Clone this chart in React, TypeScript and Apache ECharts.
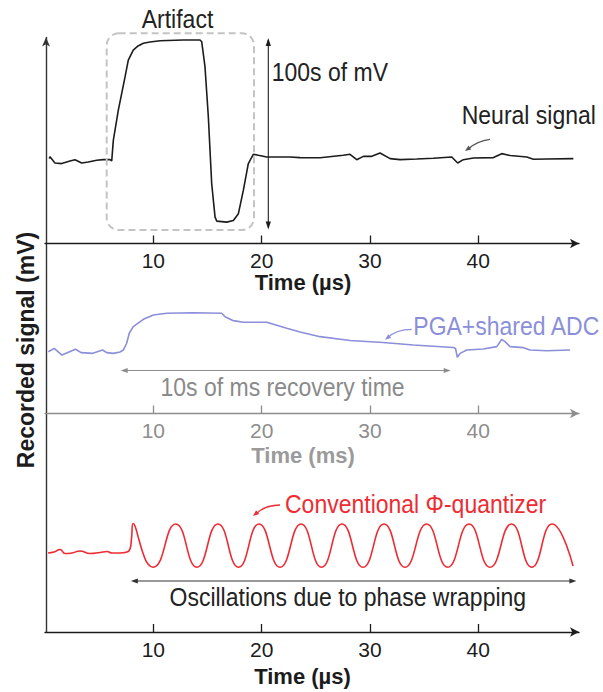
import React, { useEffect, useRef } from "react";
import * as echarts from "echarts";

// ---------- data ----------
const X_MAX = 49.3;
const X_TICKS = [10, 20, 30, 40];

// Panel 1: neural recording with a stimulation artifact (time in µs, arbitrary mV units)
const artifactTrace: [number, number][] = [
  [0.4, 40.9], [0.46, 41.8], [0.92, 38.8], [1.54, 38.5], [2.31, 39.8], [2.77, 40.4],
  [3.39, 38.8], [4.0, 39.3], [4.77, 40.1], [5.38, 40.4], [6.0, 40.4], [6.16, 39.8],
  [6.31, 49.8], [6.77, 64.3], [7.39, 80.3], [7.69, 88.4], [8.15, 93.2], [8.59, 95.2],
  [9.08, 96.5], [9.7, 97.1], [10.62, 97.7], [12.77, 98.1], [14.31, 98.1], [14.47, 97.2],
  [14.77, 85.2], [15.08, 61], [15.39, 28.8], [15.7, 12.7], [15.86, 10.8], [16.78, 10.3],
  [17.39, 11.1], [17.85, 14.3], [18.31, 25.6], [18.77, 38.5], [19.23, 43], [19.7, 42.5],
  [20.47, 41.7], [21.39, 41.7], [22.62, 41.7], [23.55, 41.4], [25.4, 41.3], [27.54, 42.5],
  [28.16, 43], [28.78, 40.4], [29.39, 42], [30.17, 42], [30.93, 43.6], [31.86, 40.9],
  [32.78, 40.4], [34.32, 40.7], [35.85, 41.1], [37.55, 41.7], [38.1, 38.8], [38.62, 40.4],
  [39.55, 41.2], [41.4, 41.4], [42.17, 43.3], [42.94, 42.4], [44.48, 41.7], [45.09, 40.6],
  [46.33, 40.7], [48.78, 40.9],
];

// Panel 2: PGA + shared ADC (time in ms)
const pgaTrace: [number, number][] = [
  [0.31, 54.4], [0.85, 57.4], [1.56, 51.5], [2.81, 56.6], [3.34, 53.6], [4.41, 53.0],
  [5.31, 55.9], [5.7, 53.6], [6.31, 53.0], [6.93, 54.2], [7.23, 55.9], [7.54, 61.9],
  [7.78, 70.7], [8.15, 76.5], [9.08, 83.0], [10.0, 86.8], [11.24, 88.3], [13.7, 88.8],
  [16.32, 88.3], [16.62, 85.3], [17.39, 81.8], [18.31, 80.4], [20.47, 80.4], [22.32, 75.1],
  [23.55, 71.8], [25.39, 67.7], [28.16, 64.3], [31.21, 62.6], [34.0, 60.4], [37.7, 58.1],
  [37.9, 57.3], [38.07, 49.5], [38.32, 53.0], [38.94, 55.9], [40.47, 56.8], [41.71, 58.9],
  [42.17, 65.4], [42.47, 63.3], [42.94, 58.9], [44.17, 58.0], [44.78, 55.9], [46.33, 55.3],
  [48.48, 55.9],
];

// Panel 3: conventional Φ-quantizer (time in µs)
const phiTrace: [number, number][] = [
  [0.28, 52], [0.83, 52.6], [1.39, 54.3], [1.85, 51.6], [2.49, 52], [3.23, 53.3],
  [4.16, 51.6], [5.08, 52.3], [5.72, 53], [6.19, 52], [6.93, 52], [7.57, 52.6],
  [7.85, 54.6], [7.99, 61.8], [8.13, 71.4], [8.31, 69.7], [8.68, 60.5], [9.14, 50],
  [9.51, 44.7], [9.97, 42.6],
  [12.07, 71.1], [14.02, 42.6], [15.97, 71.1], [17.87, 42.6], [19.76, 71.1], [21.7, 42.6],
  [23.64, 71.1], [25.53, 42.6], [27.42, 71.1], [29.36, 42.6], [31.3, 71.1], [33.24, 42.6],
  [35.23, 71.1], [37.18, 42.6], [39.15, 71.1], [41.09, 42.6], [43.07, 71.1], [44.94, 42.6],
  [46.81, 71.1], [48.75, 43.4],
];

// ---------- styling ----------
const TEXT_FONT = "'Liberation Sans', Arial, Helvetica, sans-serif";
const NUM_FONT = "'Liberation Sans Narrow', 'Arial Narrow', 'Liberation Sans', Arial, sans-serif";
const BLACK = "#1c1c1c";
const GRAY = "#8d8d8d";
const LAVENDER = "#8b8fd9";
const RED = "#ee2b32";

function head(tx: number, ty: number, fx: number, fy: number, len = 8, hw = 2.8, fill = BLACK) {
  const dx = tx - fx;
  const dy = ty - fy;
  const d = Math.hypot(dx, dy) || 1;
  const ux = dx / d;
  const uy = dy / d;
  const bx = tx - ux * len;
  const by = ty - uy * len;
  return {
    type: "polygon",
    z: 10,
    shape: { points: [[tx, ty], [bx - uy * hw, by + ux * hw], [bx + uy * hw, by - ux * hw]] },
    style: { fill },
    silent: true,
  };
}

function label(text: string, x: number, y: number, fill: string, opts: any = {}) {
  return {
    type: "text",
    z: 10,
    x,
    y,
    scaleX: opts.scaleX ?? 0.92,
    rotation: opts.rotation ?? 0,
    style: {
      text,
      fill,
      fontSize: opts.fontSize ?? 25,
      lineHeight: opts.lineHeight ?? undefined,
      fontWeight: opts.fontWeight ?? "normal",
      fontFamily: TEXT_FONT,
      align: opts.align ?? "left",
      textAlign: opts.align ?? "left",
      verticalAlign: "middle",
      textVerticalAlign: "middle",
    },
    silent: true,
  };
}

function xAxis(gridIndex: number, color: string) {
  return {
    type: "value",
    gridIndex,
    min: 0,
    max: X_MAX,
    axisLine: {
      show: true,
      lineStyle: { color, width: 1.4 },
      symbol: ["none", "arrow"],
      symbolSize: [7, 9],
    },
    axisTick: {
      show: true,
      inside: true,
      length: 8,
      customValues: X_TICKS,
      lineStyle: { color, width: 1.3 },
    },
    axisLabel: {
      show: true,
      margin: 7,
      color,
      fontSize: 21,
      lineHeight: 20,
      fontFamily: NUM_FONT,
      customValues: X_TICKS,
    },
    splitLine: { show: false },
  };
}

function hiddenY(gridIndex: number) {
  return { type: "value", gridIndex, min: 0, max: 100, show: false, splitLine: { show: false } };
}

export default function App() {
  const ref = useRef<HTMLDivElement>(null);

  useEffect(() => {
    document.body.style.margin = "0";
    if (!ref.current) return;
    const chart = echarts.init(ref.current, undefined, { renderer: "svg" });

    const titleOpts = { align: "center", fontWeight: "bold", fontSize: 22, lineHeight: 20, scaleX: 1 };

    const option: any = {
      animation: false,
      backgroundColor: "#ffffff",
      grid: [
        { left: 46, top: 37.5, width: 500, height: 594.5 },
        { left: 45, top: 36, width: 534, height: 207.5 },
        { left: 45, top: 300, width: 534, height: 113.5 },
        { left: 45, top: 480, width: 534, height: 152 },
      ],
      xAxis: [
        { type: "value", gridIndex: 0, min: 0, max: 1, show: false },
        xAxis(1, BLACK),
        xAxis(2, GRAY),
        xAxis(3, BLACK),
      ],
      yAxis: [
        {
          type: "value",
          gridIndex: 0,
          min: 0,
          max: 1,
          axisLine: {
            show: true,
            lineStyle: { color: "#333", width: 1.4 },
            symbol: ["none", "arrow"],
            symbolSize: [6, 9],
          },
          axisTick: { show: false },
          axisLabel: { show: false },
          splitLine: { show: false },
        },
        hiddenY(1),
        hiddenY(2),
        hiddenY(3),
      ],
      series: [
        {
          type: "line",
          xAxisIndex: 1,
          yAxisIndex: 1,
          data: artifactTrace,
          showSymbol: false,
          lineStyle: { color: BLACK, width: 1.6 },
          silent: true,
        },
        {
          type: "line",
          xAxisIndex: 2,
          yAxisIndex: 2,
          data: pgaTrace,
          showSymbol: false,
          lineStyle: { color: LAVENDER, width: 1.6 },
          silent: true,
        },
        {
          type: "line",
          xAxisIndex: 3,
          yAxisIndex: 3,
          data: phiTrace,
          showSymbol: false,
          smooth: 0.5,
          lineStyle: { color: RED, width: 1.6 },
          silent: true,
        },
      ],
      graphic: [
        // artifact box
        {
          type: "rect",
          z: 5,
          shape: { x: 106.7, y: 33.3, width: 147.3, height: 196.7, r: 12 },
          style: { fill: "none", stroke: "#c4c4c4", lineWidth: 2, lineDash: [7, 4] },
          silent: true,
        },
        label("Artifact", 177.5, 19, "#222", { align: "center" }),
        // 100s of mV double arrow
        { type: "line", z: 10, shape: { x1: 268.3, y1: 40, x2: 268.3, y2: 227.5 }, style: { stroke: BLACK, lineWidth: 1.1 }, silent: true },
        head(268.3, 38, 268.3, 60, 8, 2.6),
        head(268.3, 229.5, 268.3, 200, 8, 2.6),
        label("100s of mV", 271.7, 71.7, "#222"),
        // Neural signal
        label("Neural signal", 461.7, 115, "#222"),
        { type: "bezierCurve", z: 10, shape: { x1: 490, y1: 139.3, x2: 468, y2: 149, cpx1: 477, cpy1: 141 }, style: { stroke: "#555", lineWidth: 1.2, fill: "none" }, silent: true },
        head(465, 151, 472, 146, 6, 2.4, "#555"),
        // Panel 2 annotations
        label("PGA+shared ADC", 413.3, 325.8, LAVENDER),
        { type: "bezierCurve", z: 10, shape: { x1: 411.7, y1: 329.3, x2: 388, y2: 337.5, cpx1: 396, cpy1: 329.5 }, style: { stroke: LAVENDER, lineWidth: 1.3, fill: "none" }, silent: true },
        head(385, 339.8, 391, 335, 6, 2.4, LAVENDER),
        { type: "line", z: 10, shape: { x1: 123, y1: 370.5, x2: 448.5, y2: 370.5 }, style: { stroke: GRAY, lineWidth: 1.2 }, silent: true },
        head(120.7, 370.5, 140, 370.5, 7, 2.4, GRAY),
        head(450.7, 370.5, 430, 370.5, 7, 2.4, GRAY),
        label("10s of ms recovery time", 160.5, 386.7, "#8a8a8a"),
        // Panel 3 annotations
        label("Conventional Φ-quantizer", 285, 504.3, RED),
        { type: "bezierCurve", z: 10, shape: { x1: 280, y1: 505, x2: 256, y2: 514, cpx1: 264, cpy1: 505.5 }, style: { stroke: RED, lineWidth: 1.3, fill: "none" }, silent: true },
        head(253, 516, 259, 511, 6, 2.4, RED),
        { type: "line", z: 10, shape: { x1: 133, y1: 581, x2: 574, y2: 581 }, style: { stroke: "#333", lineWidth: 1.2 }, silent: true },
        head(130.8, 581, 150, 581, 7, 2.4, "#333"),
        head(576.4, 581, 556, 581, 7, 2.4, "#333"),
        label("Oscillations due to phase wrapping", 169.5, 597, "#222"),
        // axis titles
        label("Time (µs)", 303, 282, BLACK, titleOpts),
        label("Time (ms)", 303, 455.5, "#9a9a9a", titleOpts),
        label("Time (µs)", 302.5, 676, BLACK, titleOpts),
        label("Recorded signal (mV)", 26, 350, BLACK, { align: "center", fontWeight: "bold", fontSize: 23, scaleX: 1, rotation: Math.PI / 2 }),
      ],
    };

    chart.setOption(option);
    return () => chart.dispose();
  }, []);

  return <div ref={ref} style={{ width: 603, height: 692 }} />;
}
